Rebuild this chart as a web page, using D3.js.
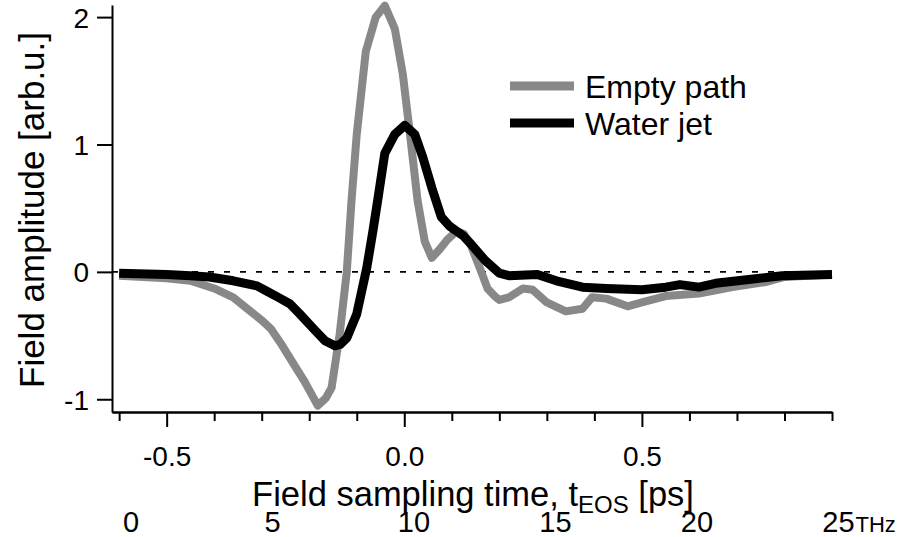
<!DOCTYPE html>
<html>
<head>
<meta charset="utf-8">
<script src="https://cdn.jsdelivr.net/npm/d3@7"></script>
<style>
  html, body { margin: 0; padding: 0; background: #fff; }
  svg { display: block; }
  text { font-family: "Liberation Sans", Arial, Helvetica, sans-serif; fill: #000; }
</style>
</head>
<body>
<svg id="chart" width="912" height="537"></svg>
<script>
// Field sampling time (ps) and amplitude (arb.u.) for the empty path trace
const emptyTime = [-0.60, -0.55, -0.50, -0.45, -0.40, -0.36, -0.33, -0.30, -0.28, -0.26, -0.235, -0.21,
  -0.182, -0.165, -0.153, -0.136, -0.121, -0.111, -0.100, -0.081, -0.060, -0.041, -0.020, -0.003,
  0.012, 0.028, 0.043, 0.058, 0.075, 0.090, 0.110, 0.125, 0.140, 0.160, 0.175, 0.190, 0.200, 0.220,
  0.250, 0.270, 0.300, 0.340, 0.375, 0.395, 0.425, 0.470, 0.500, 0.550, 0.620, 0.690, 0.760, 0.800, 0.900];
const emptyAmp = [-0.03, -0.04, -0.05, -0.07, -0.13, -0.20, -0.29, -0.38, -0.45, -0.56, -0.71, -0.86,
  -1.05, -0.99, -0.91, -0.49, 0.00, 0.56, 1.08, 1.73, 2.00, 2.09, 1.91, 1.55,
  1.08, 0.56, 0.24, 0.11, 0.18, 0.25, 0.32, 0.30, 0.21, 0.02, -0.13, -0.19, -0.22, -0.20,
  -0.13, -0.14, -0.24, -0.31, -0.29, -0.20, -0.21, -0.27, -0.24, -0.19, -0.17, -0.12, -0.08, -0.04, -0.02];

// Same quantities for the water jet trace
const waterTime = [-0.60, -0.50, -0.45, -0.41, -0.36, -0.31, -0.29, -0.265, -0.241, -0.22, -0.19,
  -0.167, -0.146, -0.135, -0.121, -0.100, -0.079, -0.066, -0.056, -0.041, -0.020, 0.001, 0.022,
  0.039, 0.058, 0.078, 0.095, 0.110, 0.125, 0.140, 0.170, 0.200, 0.220, 0.280, 0.320, 0.375,
  0.425, 0.500, 0.550, 0.580, 0.620, 0.655, 0.725, 0.795, 0.900];
const waterAmp = [-0.01, -0.02, -0.03, -0.04, -0.07, -0.11, -0.15, -0.20, -0.25, -0.33, -0.45,
  -0.54, -0.58, -0.57, -0.52, -0.33, 0.03, 0.32, 0.56, 0.93, 1.08, 1.15, 1.08,
  0.90, 0.66, 0.43, 0.36, 0.32, 0.28, 0.22, 0.09, -0.01, -0.03, -0.02, -0.07, -0.12,
  -0.13, -0.14, -0.12, -0.10, -0.12, -0.09, -0.06, -0.03, -0.02];

// Axis ticks
const timeMajorTicks = [-0.5, 0.0, 0.5];
const timeMinorTicks = [-0.6, -0.4, -0.3, -0.2, -0.1, 0.1, 0.2, 0.3, 0.4, 0.6, 0.7, 0.8, 0.9];
const ampTicks = [-1, 0, 1, 2];
const freqTicks = [0, 5, 10, 15, 20, 25];

const seriesNames = ["Empty path", "Water jet"];
const seriesColors = ["#888888", "#000000"];

const svg = d3.select("#chart");

const x = d3.scaleLinear().domain([-0.615, 0.9]).range([112, 832]);
const y = d3.scaleLinear().domain([-1.1, 2.095]).range([412, 5]);
const fx = d3.scaleLinear().domain([0, 20]).range([131, 697]);

// zero reference line
svg.append("line")
  .attr("x1", x(-0.615)).attr("x2", x(0.9))
  .attr("y1", y(0)).attr("y2", y(0))
  .attr("stroke", "#000").attr("stroke-width", 1.6)
  .attr("stroke-dasharray", "6,10");

const line = d3.line().x(d => x(d[0])).y(d => y(d[1])).curve(d3.curveLinear);

const traces = [
  d3.zip(emptyTime, emptyAmp),
  d3.zip(waterTime, waterAmp)
];

traces.forEach((pts, i) => {
  svg.append("path")
    .datum(pts)
    .attr("d", line)
    .attr("fill", "none")
    .attr("stroke", seriesColors[i])
    .attr("stroke-width", i === 0 ? 8 : 9)
    .attr("stroke-linejoin", "round");
});

// y axis
const yAxis = svg.append("g")
  .attr("transform", `translate(${x(-0.615)},0)`)
  .call(d3.axisLeft(y).tickValues(ampTicks).tickSize(15).tickSizeOuter(0).tickPadding(8)
    .tickFormat(d => String(d)));

// x axis: minor then major ticks
const xMinor = svg.append("g")
  .attr("transform", `translate(0,${y(-1.1)})`)
  .call(d3.axisBottom(x).tickValues(timeMinorTicks).tickSize(9).tickSizeOuter(0).tickFormat(""));
const xMajor = svg.append("g")
  .attr("transform", `translate(0,${y(-1.1)})`)
  .call(d3.axisBottom(x).tickValues(timeMajorTicks).tickSize(15).tickSizeOuter(0).tickPadding(19)
    .tickFormat(d => d.toFixed(1)));

[yAxis, xMinor, xMajor].forEach(g => {
  g.select(".domain").attr("stroke", "#000").attr("stroke-width", 2);
  g.selectAll(".tick line").attr("stroke", "#000").attr("stroke-width", 2);
  g.selectAll(".tick text").attr("font-size", 28).attr("font-family", null).attr("fill", "#000");
});
yAxis.selectAll(".tick text").attr("dy", "0.36em");
xMajor.selectAll(".tick text").attr("dy", "0.71em");

// axis titles
svg.append("text")
  .attr("transform", "translate(44,210) rotate(-90)")
  .attr("text-anchor", "middle")
  .attr("font-size", 35)
  .text("Field amplitude [arb.u.]");

const xTitle = svg.append("text")
  .attr("x", 473).attr("y", 506)
  .attr("text-anchor", "middle")
  .attr("font-size", 34.5);
xTitle.append("tspan").text("Field sampling time, t");
xTitle.append("tspan").attr("font-size", 24).attr("dy", 7).text("EOS");
xTitle.append("tspan").attr("dy", -7).text(" [ps]");

// frequency scale row
svg.append("g").selectAll("text")
  .data(freqTicks)
  .join("text")
  .attr("x", d => fx(d)).attr("y", 532)
  .attr("text-anchor", "middle")
  .attr("font-size", 29)
  .text(d => d);
svg.append("text")
  .attr("x", fx(25) + 17).attr("y", 532)
  .attr("font-size", 22)
  .text("THz");

// legend
const legend = svg.append("g").attr("transform", "translate(510,86)");
seriesNames.forEach((name, i) => {
  const row = legend.append("g").attr("transform", `translate(0,${i * 37})`);
  row.append("line")
    .attr("x1", 0).attr("x2", 64).attr("y1", 0).attr("y2", 0)
    .attr("stroke", seriesColors[i]).attr("stroke-width", 9);
  row.append("text")
    .attr("x", 75).attr("y", 0).attr("dy", "0.36em")
    .attr("font-size", 32)
    .text(name);
});
</script>
</body>
</html>
